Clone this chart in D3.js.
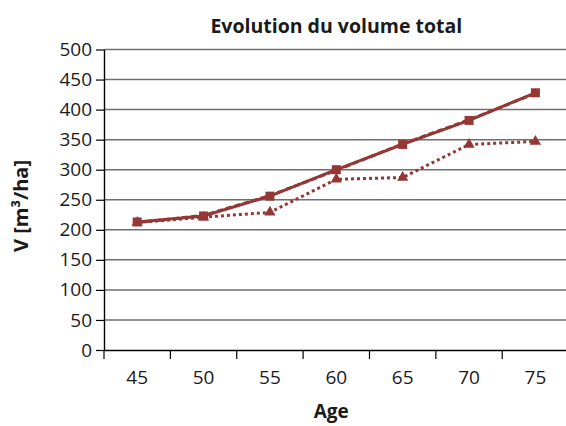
<!DOCTYPE html>
<html><head><meta charset="utf-8">
<script src="https://cdn.jsdelivr.net/npm/d3@7"></script>
<style>body{margin:0;background:#fff}svg{display:block}</style>
</head><body>
<svg id="c" width="566" height="426"></svg>
<script>
const ages = ["45","50","55","60","65","70","75"];
const serieA = [213, 223, 256, 300, 342, 382, 428];   // solid, squares
const serieB = [212, 224, 257, 299, 343, 383, 427];   // dashed, squares
const serieC = [212, 221, 229, 284, 287, 342, 347];   // dotted, triangles
const yTicks = [0,50,100,150,200,250,300,350,400,450,500];
const titleText = "Evolution du volume total";
const xTitle = "Age";

const svg = d3.select("#c");
const font = "'Open Sans', 'Noto Sans', sans-serif";
const col = "#953735";
const pL = 104, pR = 568.6, pT = 49.5, pB = 350;

const x = d3.scaleBand().domain(ages).range([pL, pR]);
const y = d3.scaleLinear().domain([0, 500]).range([pB, pT]);

// gridlines
svg.append("g").selectAll("line").data(yTicks.filter(d => d > 0)).join("line")
  .attr("x1", pL).attr("x2", pR).attr("y1", d => y(d)).attr("y2", d => y(d))
  .attr("stroke", "#6f6f6f").attr("stroke-width", 1.5);

// y axis
const ya = svg.append("g").attr("transform", `translate(${pL},0)`)
  .call(d3.axisLeft(y).tickValues(yTicks).tickSize(8).tickSizeOuter(0).tickPadding(4));
ya.select(".domain").attr("stroke", "#000").attr("stroke-width", 1.4);
ya.selectAll(".tick line").attr("stroke", "#000").attr("stroke-width", 1.2);
ya.selectAll("text").attr("font-family", font).attr("font-size", 19).attr("fill", "#1a1a1a");

// x axis
const xa = svg.append("g").attr("transform", `translate(0,${pB})`)
  .call(d3.axisBottom(x).tickSize(0).tickPadding(21));
xa.select(".domain").attr("stroke", "#000").attr("stroke-width", 1.4);
xa.selectAll("text").attr("font-family", font).attr("font-size", 19).attr("fill", "#1a1a1a");
// band-boundary ticks
const bounds = ages.map(a => x(a));
svg.append("g").selectAll("line").data(bounds).join("line")
  .attr("x1", d => d).attr("x2", d => d).attr("y1", pB).attr("y2", pB + 9)
  .attr("stroke", "#000").attr("stroke-width", 1.2);

const cx = a => x(a) + x.bandwidth() / 2;
const line = d3.line().x((d, i) => cx(ages[i])).y(d => y(d));

function drawLine(vals, dash) {
  svg.append("path").datum(vals).attr("d", line).attr("fill", "none")
    .attr("stroke", col).attr("stroke-width", 3).attr("stroke-dasharray", dash);
}
drawLine(serieC, "3,3");
drawLine(serieA, null);
drawLine(serieB, "6,3");

// markers
svg.append("g").selectAll("path").data(serieC).join("path")
  .attr("d", d3.symbol().type(d3.symbolTriangle).size(55))
  .attr("transform", (d, i) => `translate(${cx(ages[i])},${y(d)})`).attr("fill", col);
svg.append("g").selectAll("rect").data(serieA).join("rect")
  .attr("x", (d, i) => cx(ages[i]) - 4.5).attr("y", d => y(d) - 4.5)
  .attr("width", 9).attr("height", 9).attr("fill", col);

// titles
svg.append("text").attr("x", (pL + pR) / 2).attr("y", 33).attr("text-anchor", "middle")
  .attr("font-family", font).attr("font-weight", "bold").attr("font-size", 19.5).attr("fill", "#1a1a1a")
  .text(titleText);
svg.append("text").attr("x", (pL + pR) / 2 - 5).attr("y", 418).attr("text-anchor", "middle")
  .attr("font-family", font).attr("font-weight", "bold").attr("font-size", 19).attr("fill", "#1a1a1a")
  .text(xTitle);
svg.append("text").attr("transform", `translate(28,206) rotate(-90)`).attr("text-anchor", "middle")
  .attr("font-family", font).attr("font-weight", "bold").attr("font-size", 20).attr("fill", "#1a1a1a")
  .text("V [m³/ha]");
</script>
</body></html>
